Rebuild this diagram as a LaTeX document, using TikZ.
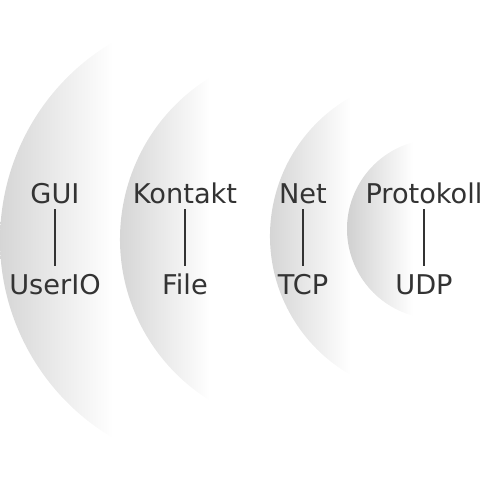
\documentclass[tikz,border=0pt]{standalone}
\usepackage{fontspec}
\setmainfont{DejaVu Sans}
\usetikzlibrary{positioning}
\definecolor{ink}{HTML}{333333}
\tikzset{
  layer/.style={left color=gray!42, right color=white},
  lbl/.style={font=\fontsize{20.4pt}{24pt}\selectfont, text=ink, inner sep=0pt, text height=14.8pt, text depth=0pt},
  link/.style={draw=ink, line width=2.2pt, shorten <=4.5pt, shorten >=6.5pt}
}

\begin{document}
\begin{tikzpicture}[x=0.75pt, y=0.75pt, node distance=53.2pt]
\useasboundingbox (0,0) rectangle (483,480);
% shaded layers
\shade[layer] ([shift={(230,240)}]120.6:230) arc[start angle=120.6, end angle=239.4, radius=230] -- cycle;
\shade[layer] ([shift={(310,241)}]121.8:190) arc[start angle=121.8, end angle=238.2, radius=190] -- cycle;
\shade[layer] ([shift={(430,244)}]120:160) arc[start angle=120, end angle=240, radius=160] -- cycle;
\shade[layer] ([shift={(437,251)}]105.5:90) arc[start angle=105.5, end angle=254.5, radius=90] -- cycle;
% labels
\node[lbl, anchor=base] (gui) at (55,277) {GUI};
\node[lbl, below=of gui] (userio) {UserIO};
\node[lbl, anchor=base] (kontakt) at (185,277) {Kontakt};
\node[lbl, below=of kontakt] (file) {File};
\node[lbl, anchor=base] (net) at (303,277) {Net};
\node[lbl, below=of net] (tcp) {TCP};
\node[lbl, anchor=base] (protokoll) at (424,277) {Protokoll};
\node[lbl, below=of protokoll] (udp) {UDP};
\draw[link] (gui) -- (userio);
\draw[link] (kontakt) -- (file);
\draw[link] (net) -- (tcp);
\draw[link] (protokoll) -- (udp);
\end{tikzpicture}
\end{document}
